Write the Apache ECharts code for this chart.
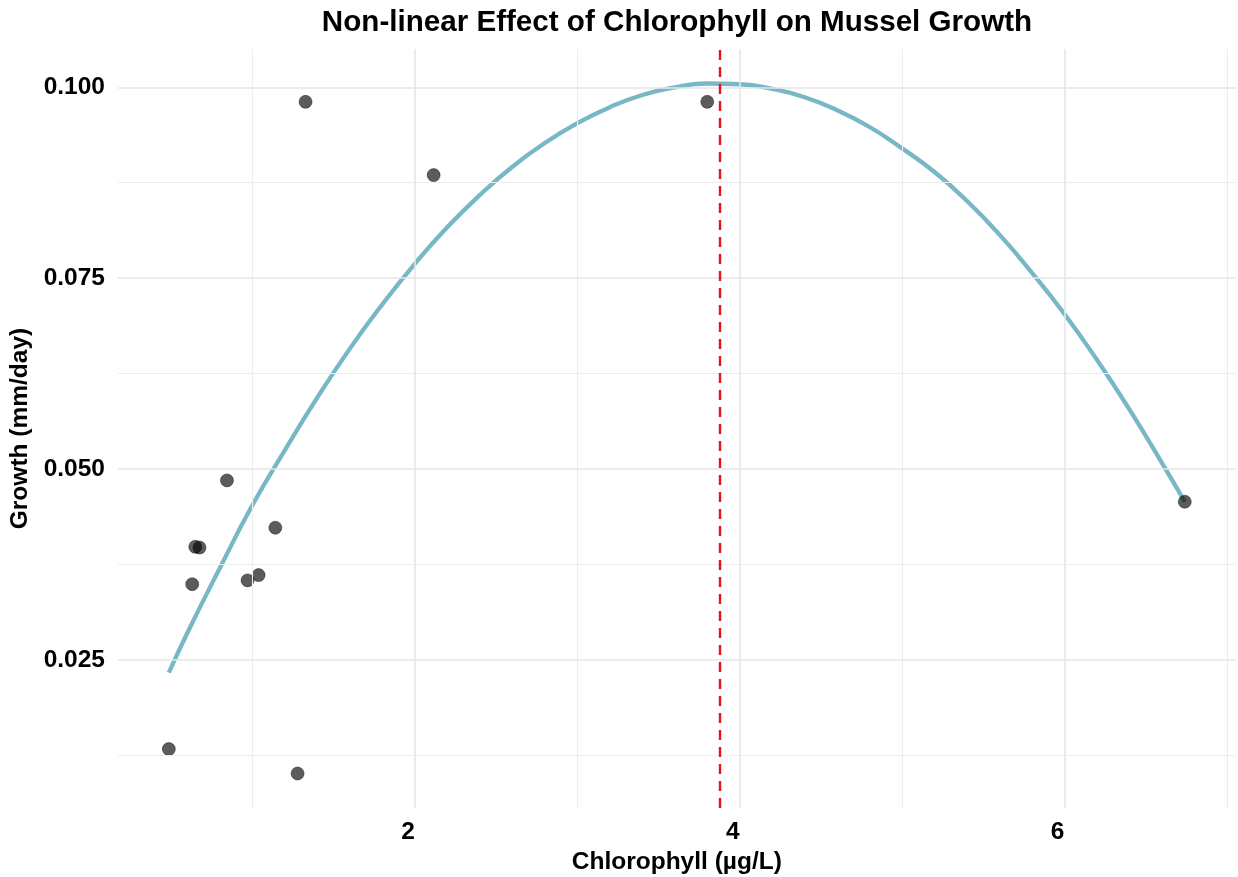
<!DOCTYPE html>
<html>
<head>
<meta charset="utf-8">
<title>Non-linear Effect of Chlorophyll on Mussel Growth</title>
<script src="https://cdn.jsdelivr.net/npm/echarts@6/dist/echarts.min.js"></script>
<style>
  html, body { margin: 0; padding: 0; background: #ffffff; }
  #chart { width: 1238px; height: 877px; }
</style>
</head>
<body>
<div id="chart"></div>
<script>
// Observed site measurements
const chlorophyll = [0.484, 1.277, 1.326, 2.115, 3.800, 6.741, 0.842, 1.140, 0.647, 0.673, 0.628, 0.969, 1.037];
const growth      = [0.0133, 0.0101, 0.0981, 0.0885, 0.0981, 0.0457, 0.0485, 0.0423, 0.0398, 0.0397, 0.0349, 0.0354, 0.0361];

// Fitted response curve
const curveChl    = [0.484, 0.6, 0.8, 1.0, 1.2, 1.4, 1.6, 1.8, 2.0, 2.2, 2.4, 2.6, 2.8, 3.0, 3.2, 3.4, 3.6, 3.8,
                     4.0, 4.2, 4.4, 4.6, 4.8, 5.0, 5.2, 5.4, 5.6, 5.8, 6.0, 6.2, 6.4, 6.6, 6.741];
const curveGrowth = [0.0233, 0.0286, 0.0371, 0.0453, 0.0525, 0.0594, 0.0658, 0.0716, 0.0769, 0.0817, 0.0859,
                     0.0896, 0.0927, 0.0953, 0.0974, 0.0990, 0.1000, 0.1005, 0.1004, 0.0998, 0.0987, 0.0970,
                     0.0948, 0.0920, 0.0889, 0.0851, 0.0807, 0.0757, 0.0703, 0.0643, 0.0578, 0.0508, 0.0457];

// Chlorophyll level of peak growth
const optimumChl = 3.88;

// Axis ticks and gridlines
const xTicks = [2, 4, 6];
const xMinor = [1, 3, 5, 7];
const yTicks = [0.025, 0.050, 0.075, 0.100];
const yMinor = [0.0125, 0.0375, 0.0625, 0.0875];

const xRange = [0.171, 7.054];
const yRange = [0.00558, 0.10502];

const FONT = '"Liberation Sans", Arial, Helvetica, sans-serif';

const gridLine = (axis, v, width, color) => ({
  [axis]: v,
  lineStyle: { color: color, width: width, type: 'solid' }
});

const gridData = [
  ...xMinor.map(v => gridLine('xAxis', v, 1.1, '#ededed')),
  ...yMinor.map(v => gridLine('yAxis', v, 1.1, '#ededed')),
  ...xTicks.map(v => gridLine('xAxis', v, 1.6, '#e6e6e6')),
  ...yTicks.map(v => gridLine('yAxis', v, 1.6, '#e6e6e6'))
];

const chart = echarts.init(document.getElementById('chart'), null, { renderer: 'canvas' });

chart.setOption({
  animation: false,
  backgroundColor: '#ffffff',
  title: {
    text: 'Non-linear Effect of Chlorophyll on Mussel Growth',
    left: 672,
    textAlign: 'center',
    top: 3,
    textStyle: { fontFamily: FONT, fontWeight: 'bold', fontSize: 29.6, color: '#000000' }
  },
  grid: { left: 118, right: 2.4, top: 49, bottom: 69, containLabel: false, outerBoundsMode: 'none' },
  xAxis: {
    type: 'value',
    min: xRange[0],
    max: xRange[1],
    name: 'Chlorophyll (µg/L)',
    nameLocation: 'middle',
    nameGap: 37,
    nameTextStyle: { fontFamily: FONT, fontWeight: 'bold', fontSize: 24.5, color: '#000000', verticalAlign: 'top' },
    axisLine: { show: false },
    axisTick: { show: false },
    splitLine: { show: false },
    axisLabel: {
      customValues: xTicks,
      formatter: v => String(v),
      margin: 12,
      padding: [0, 14, 0, 0],
      fontFamily: FONT, fontWeight: 'bold', fontSize: 24.5, color: '#000000'
    }
  },
  yAxis: {
    type: 'value',
    min: yRange[0],
    max: yRange[1],
    name: 'Growth (mm/day)',
    nameLocation: 'middle',
    nameRotate: 90,
    nameGap: 74,
    nameTextStyle: { fontFamily: FONT, fontWeight: 'bold', fontSize: 24.5, color: '#000000' },
    axisLine: { show: false },
    axisTick: { show: false },
    splitLine: { show: false },
    axisLabel: {
      customValues: yTicks,
      formatter: v => v.toFixed(3),
      margin: 13,
      fontFamily: FONT, fontWeight: 'bold', fontSize: 24.5, color: '#000000'
    }
  },
  series: [
    {
      // panel gridlines
      type: 'line',
      data: [],
      silent: true,
      z: 1,
      markLine: {
        silent: true,
        precision: 6,
        symbol: ['none', 'none'],
        label: { show: false },
        emphasis: { disabled: true },
        data: gridData
      }
    },
    {
      name: 'Quadratic fit',
      type: 'line',
      data: curveChl.map((c, i) => [c, curveGrowth[i]]),
      smooth: true,
      showSymbol: false,
      silent: true,
      z: 3,
      lineStyle: { color: '#78B7C5', width: 4.3, cap: 'butt' }
    },
    {
      name: 'Sites',
      type: 'scatter',
      data: chlorophyll.map((c, i) => [c, growth[i]]),
      symbol: 'circle',
      symbolSize: 13,
      z: 4,
      itemStyle: { color: 'rgba(0,0,0,0.64)', borderColor: 'rgba(0,0,0,0.4)', borderWidth: 1, opacity: 1 }
    },
    {
      // optimum chlorophyll marker
      type: 'line',
      data: [],
      silent: true,
      z: 5,
      markLine: {
        silent: true,
        precision: 6,
        symbol: ['none', 'none'],
        label: { show: false },
        emphasis: { disabled: true },
        lineStyle: { color: '#E8141C', width: 2.4, type: [10, 7] },
        data: [{ xAxis: optimumChl }]
      }
    }
  ]
});
</script>
</body>
</html>
